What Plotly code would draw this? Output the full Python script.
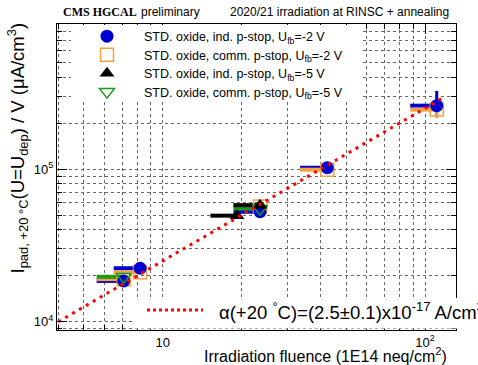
import plotly.graph_objects as go

# ---------------- data ----------------
# STD. oxide, ind. p-stop, Ufb=-2 V  (blue circles)
blue_fluence = [7.1, 8.2, 23.5, 42.4, 110.8]
blue_fluence_err = [1.5, 1.7, 4.9, 9.0, 23.0]
blue_current = [18500, 22400, 52500, 102000, 260000]
blue_current_err_up = [0, 0, 0, 0, 65000]
blue_current_err_dn = [0, 0, 0, 0, 40000]

# STD. oxide, comm. p-stop, Ufb=-2 V (orange open squares)
orange_fluence = [7.1, 8.2, 23.5, 42.4, 110.8]
orange_fluence_err = [1.5, 1.7, 4.9, 9.0, 23.0]
orange_current = [19000, 21100, 56800, 99000, 245000]
orange_current_err_up = [0, 0, 0, 0, 0]
orange_current_err_dn = [0, 0, 0, 0, 30000]

# STD. oxide, ind. p-stop, Ufb=-5 V (black triangles)
black_fluence = [19.2, 23.5]
black_fluence_err = [4.0, 4.9]
black_current = [49500, 58000]

# STD. oxide, comm. p-stop, Ufb=-5 V (green open down-triangles)
green_fluence = [7.1, 23.5]
green_fluence_err = [1.5, 4.9]
green_current = [19700, 55000]

# fit: I/V = alpha * fluence
alpha = 2.5e-17          # A/cm
fit_fluence = [4.0, 116.0]
fit_current = [alpha * f * 1e14 * 1e6 for f in fit_fluence]  # uA/cm^3

x_major = [10, 100]
x_major_text = ["10", "10<sup>2</sup>"]
x_minor = [4, 5, 6, 7, 8, 9, 20, 30, 40, 50, 60, 70, 80, 90]
y_major = [1e4, 1e5]
y_major_text = ["10<sup>4</sup>", "10<sup>5</sup>"]
y_minor = [9e3, 2e4, 3e4, 4e4, 5e4, 6e4, 7e4, 8e4, 9e4,
           2e5, 3e5, 4e5, 5e5, 6e5, 7e5, 8e5, 9e5]

labels = ["STD. oxide, ind. p-stop, U<sub>fb</sub>=-2 V",
          "STD. oxide, comm. p-stop, U<sub>fb</sub>=-2 V",
          "STD. oxide, ind. p-stop, U<sub>fb</sub>=-5 V",
          "STD. oxide, comm. p-stop, U<sub>fb</sub>=-5 V"]

# ---------------- layout geometry (px) ----------------
W, H = 478, 365
L, R, T, B = 57, 456, 24, 330
pw, ph = R - L, B - T


def px(x):
    return (x - L) / pw


def py(y):
    return (B - y) / ph


FONT = "Liberation Sans, Arial, Helvetica, sans-serif"
BLUE = "#0000d0"
ORANGE = "#f5a040"
GREEN = "#1a9a1a"
BLACK = "#000000"
RED = "#ff0000"

fig = go.Figure()


def errtrace(x, xe, y, color, yup=None, ydn=None):
    kw = {}
    if yup is not None:
        kw["error_y"] = dict(type="data", symmetric=False, array=yup,
                             arrayminus=ydn, thickness=3, width=0, color=color)
    fig.add_trace(go.Scatter(
        x=x, y=y, mode="markers",
        marker=dict(size=1, color="rgba(0,0,0,0)"),
        error_x=dict(type="data", symmetric=False, array=[0] * len(x),
                     arrayminus=xe, thickness=4, width=0, color=color),
        showlegend=False, hoverinfo="skip", **kw))


errtrace(blue_fluence, blue_fluence_err, blue_current, BLUE,
         blue_current_err_up, blue_current_err_dn)
errtrace(orange_fluence, orange_fluence_err, orange_current, ORANGE,
         orange_current_err_up, orange_current_err_dn)
errtrace(green_fluence, green_fluence_err, green_current, GREEN)
errtrace(black_fluence, black_fluence_err, black_current, BLACK)

# marker traces (each in its own legend row)
fig.add_trace(go.Scatter(
    x=orange_fluence, y=orange_current, mode="markers", name=labels[1],
    legend="legend2",
    marker=dict(symbol="square-open", size=13, color=ORANGE,
                line=dict(width=1.5, color=ORANGE))))
fig.add_trace(go.Scatter(
    x=blue_fluence, y=blue_current, mode="markers", name=labels[0],
    legend="legend",
    marker=dict(symbol="circle", size=13, color=BLUE)))
fig.add_trace(go.Scatter(
    x=green_fluence, y=green_current, mode="markers", name=labels[3],
    legend="legend4",
    marker=dict(symbol="triangle-down-open", size=13, color=GREEN,
                line=dict(width=1.5, color=GREEN))))
fig.add_trace(go.Scatter(
    x=black_fluence, y=black_current, mode="markers", name=labels[2],
    legend="legend3",
    marker=dict(symbol="triangle-up", size=13, color=BLACK)))

# fit line
fig.add_trace(go.Scatter(
    x=fit_fluence, y=fit_current, mode="lines", showlegend=False,
    line=dict(color=RED, width=3, dash="3px,5px"), hoverinfo="skip"))

axis_common = dict(
    type="log", showline=True, linecolor="black", linewidth=1,
    mirror="allticks", ticks="inside", ticklen=10, tickcolor="black",
    showgrid=True, gridcolor="#666666", griddash="dot", gridwidth=1,
    zeroline=False, tickfont=dict(family=FONT, size=13, color="black"),
    tickmode="array",
)

fig.update_xaxes(
    **axis_common,
    range=[0.597, 2.118],
    tickvals=x_major, ticktext=x_major_text,
    minor=dict(tickvals=x_minor, ticks="inside", ticklen=5,
               tickcolor="black", showgrid=True, gridcolor="#666666",
               griddash="dot", gridwidth=1),
)
fig.update_yaxes(
    **axis_common,
    range=[3.9457, 5.950],
    tickvals=y_major, ticktext=y_major_text,
    minor=dict(tickvals=y_minor, ticks="inside", ticklen=5,
               tickcolor="black", showgrid=True, gridcolor="#666666",
               griddash="dot", gridwidth=1),
)

shapes = [
    # white legend boxes (drawn over grid, like ROOT TLegend)
    dict(type="rect", xref="paper", yref="paper", layer="above",
         x0=px(71), x1=px(362), y0=py(100), y1=py(T + 1), fillcolor="white",
         line=dict(width=0)),
    dict(type="rect", xref="paper", yref="paper", layer="above",
         x0=px(133), x1=px(W), y0=py(B - 1.5), y1=py(298), fillcolor="white",
         line=dict(width=0)),
    # fit legend sample
    dict(type="line", xref="paper", yref="paper", layer="above",
         x0=px(147), x1=px(203), y0=py(310), y1=py(310),
         line=dict(color=RED, width=3, dash="3px,3px")),
]

annotations = [
    dict(text="<b>CMS HGCAL</b>", x=px(61), y=py(12), xref="paper",
         yref="paper", xanchor="left", yanchor="middle", showarrow=False,
         font=dict(family="Liberation Serif, Times New Roman, serif",
                   size=12, color="black")),
    dict(text="preliminary", x=px(139), y=py(12), xref="paper",
         yref="paper", xanchor="left", yanchor="middle", showarrow=False,
         font=dict(family=FONT, size=12, color="black")),
    dict(text="2020/21 irradiation at RINSC + annealing", x=px(451),
         y=py(12), xref="paper", yref="paper", xanchor="right",
         yanchor="middle", showarrow=False,
         font=dict(family=FONT, size=12, color="black")),
    dict(text="Irradiation fluence (1E14 neq/cm<sup>2</sup>)", x=px(449),
         y=py(355), xref="paper", yref="paper", xanchor="right",
         yanchor="middle", showarrow=False,
         font=dict(family=FONT, size=16, color="black")),
    dict(text="I<sub>pad, +20 °C</sub>(U=U<sub>dep</sub>) / V (μA/cm<sup>3</sup>)",
         x=px(18), y=py(21), xref="paper", yref="paper", xanchor="center",
         yanchor="top", textangle=-90, showarrow=False,
         font=dict(family=FONT, size=18.5, color="black")),
    dict(text="α(+20 <sup>°</sup>C)=(2.5±0.1)x10<sup>-17</sup> A/cm<sup>3</sup>",
         x=px(217), y=py(311), xref="paper", yref="paper", xanchor="left",
         yanchor="middle", showarrow=False,
         font=dict(family=FONT, size=18.5, color="black")),
]

row_centers = [36.5, 55, 73.5, 92]


def leg(yc):
    return dict(x=px(70), y=py(yc), xanchor="left", yanchor="middle",
                bgcolor="rgba(0,0,0,0)", borderwidth=0,
                font=dict(family=FONT, size=12.5, color="black"),
                itemwidth=64, tracegroupgap=0)


fig.update_layout(
    width=W, height=H,
    margin=dict(l=L, r=W - R, t=T, b=H - B),
    paper_bgcolor="white", plot_bgcolor="white",
    font=dict(family=FONT, color="black"),
    shapes=shapes, annotations=annotations,
    legend=leg(row_centers[0]),
    legend2=leg(row_centers[1]),
    legend3=leg(row_centers[2]),
    legend4=leg(row_centers[3]),
)

fig.write_html("out.html")
